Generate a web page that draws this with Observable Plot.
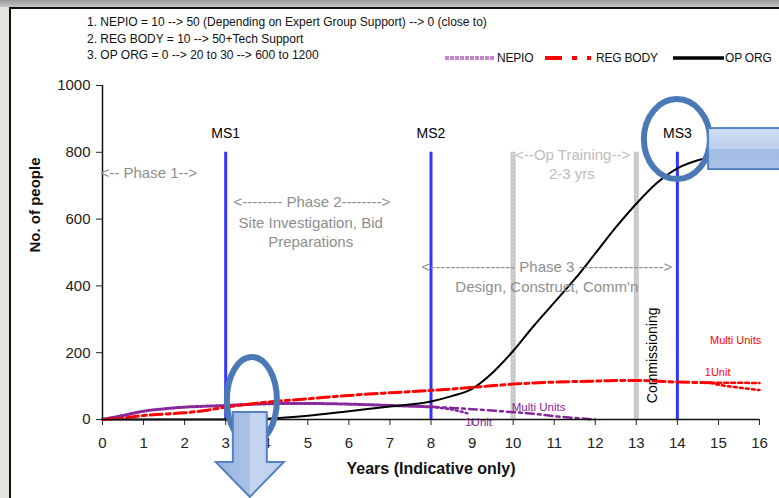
<!DOCTYPE html>
<html><head><meta charset="utf-8">
<script src="https://cdn.jsdelivr.net/npm/d3@7"></script>
<script src="https://cdn.jsdelivr.net/npm/@observablehq/plot@0.6"></script>
<style>
body{margin:0;background:#fff;font-family:"Liberation Sans",Arial,sans-serif;}
#wrap{position:relative;width:779px;height:498px;overflow:hidden;background:#fff;}
#wrap svg.plotsvg{position:absolute;left:0;top:0;}
.topbar{position:absolute;left:0;top:0;width:779px;height:7px;background:linear-gradient(#999,#c6c6c6);}
.leftstrip{position:absolute;left:0;top:7px;width:9px;height:491px;background:#e6e4de;}
.frame{position:absolute;left:9px;top:7px;width:780px;height:500px;border-left:2px solid #111;border-top:2px solid #111;pointer-events:none;}
.note{position:absolute;left:87px;font-size:12px;color:#111;white-space:nowrap;line-height:14px;}
.leg{position:absolute;top:51px;font-size:12px;color:#111;line-height:14px;letter-spacing:-0.2px;}
</style></head><body>
<div id="wrap"></div>
<script>
// ---- data ----
const xTicks = [0,1,2,3,4,5,6,7,8,9,10,11,12,13,14,15,16];
const yTicks = [0,200,400,600,800,1000];

const nepioYears  = [0,0.5,1,1.5,2,3,4,5,6,7,8];
const nepioValues = [0,12,25,32,37,42,47,48,46,42,38];
const nepioMultiYears  = [8,9,10,10.5,11,12];
const nepioMultiValues = [38,31,22,17,10,0];
const nepio1UnitYears  = [8,8.5,8.9];
const nepio1UnitValues = [38,30,18];

const regYears  = [0,0.5,1,1.5,2,2.5,3,3.5,4,5,6,7,8,9,10,11,12,13,14,14.8];
const regValues = [0,4,12,16,20,27,37,45,52,62,72,80,87,96,106,112,115,117,112,110];
const reg1UnitYears  = [14.8,15.5,16];
const reg1UnitValues = [110,110,109];
const regMultiYears  = [14.8,15,16];
const regMultiValues = [110,104,88];

const opYears  = [0,3.5,4,5,6,7,8,8.5,9,9.5,10,10.5,11,11.5,12,12.5,13,13.5,14,14.5,15,15.5];
const opValues = [0,0,2,11,25,39,54,70,92,140,205,280,350,420,497,575,646,708,752,776,790,798];

const milestoneYears  = [3,8,14];
const milestoneLabels = ["MS1","MS2","MS3"];
const milestoneTop = 800;
const trainingYears = [10,13];

const phaseLabels = [
  {text:"<-- Phase 1-->", x:1.13, y:736},
  {text:"<-------- Phase 2-------->", x:5.1, y:650},
  {text:"Site Investigation, Bid", x:5.07, y:587},
  {text:"Preparations", x:5.07, y:530},
  {text:"<----------------- Phase 3 ----------------->", x:10.82, y:455},
  {text:"Design, Construct, Comm'n", x:10.82, y:395}
];
const trainingLabels = [
  {text:"<--Op Training-->", x:11.45, y:790},
  {text:"2-3 yrs", x:11.43, y:733}
];
const commissioningLabel = {text:"Commissioning", x:13.39, y:192};
const redUnitLabels = [
  {text:"Multi Units", x:15.42, y:236},
  {text:"1Unit", x:14.98, y:141}
];
const purpleUnitLabels = [
  {text:"Multi Units", x:10.62, y:36},
  {text:"1Unit", x:9.16, y:-9}
];
const notes = [
  "1. NEPIO = 10 --> 50 (Depending on Expert Group Support) --> 0 (close to)",
  "2. REG BODY = 10 --> 50+Tech Support",
  "3. OP ORG = 0 --> 20 to 30 --> 600 to 1200"
];
const legendNames = ["NEPIO","REG BODY","OP ORG"];
// call-out decorations (anchored in data units)
const ringMS3 = {x:14, y:838};
const ringLow = {x:3.65, y:57};
const downArrow = {x:3.6, y:21};
const rightBox = {x:14.76, y:871};

// ---- tables ----
const zip = (xs, ys) => xs.map((x,i)=>({x, y:ys[i]}));
const nepio = zip(nepioYears, nepioValues);
const nepioMulti = zip(nepioMultiYears, nepioMultiValues);
const nepio1 = zip(nepio1UnitYears, nepio1UnitValues);
const reg = zip(regYears, regValues);
const reg1 = zip(reg1UnitYears, reg1UnitValues);
const regMulti = zip(regMultiYears, regMultiValues);
const op = zip(opYears, opValues);
const ms = milestoneYears.map((x,i)=>({x, label:milestoneLabels[i]}));

const PURPLE = "#86279a", RED = "#ff0000", BLUE = "#3434ff";

const chart = Plot.plot({
  width:779, height:498,
  marginLeft:102, marginRight:20, marginTop:85, marginBottom:79,
  style:{background:"transparent", fontFamily:"'Liberation Sans', Arial, sans-serif", fontSize:"15px", color:"#222"},
  x:{domain:[0,16], ticks:xTicks, tickSize:6, tickPadding:12, label:null, tickFormat:d=>String(d)},
  y:{domain:[0,1000], ticks:yTicks, tickSize:6, tickPadding:6, label:null, tickFormat:d=>String(d)},
  marks:[
    Plot.ruleX(trainingYears, {x:d=>d, y1:0, y2:milestoneTop, stroke:"#c8c8c8", strokeWidth:5}),
    Plot.ruleX(trainingYears, {x:d=>d, y1:0, y2:milestoneTop, stroke:"#e6e6e6", strokeWidth:1.5, strokeDasharray:"1,3"}),
    Plot.ruleX(ms, {x:"x", y1:0, y2:milestoneTop, stroke:BLUE, strokeWidth:3}),
    Plot.line(nepio, {x:"x", y:"y", stroke:PURPLE, strokeWidth:3, strokeDasharray:"3,1.5", curve:"catmull-rom"}),
    Plot.line(nepioMulti, {x:"x", y:"y", stroke:PURPLE, strokeWidth:2.5, strokeDasharray:"8,4,3,4", curve:"catmull-rom"}),
    Plot.line(nepio1, {x:"x", y:"y", stroke:PURPLE, strokeWidth:2.5, strokeDasharray:"2,3", curve:"catmull-rom"}),
    Plot.line(op, {x:"x", y:"y", stroke:"#000", strokeWidth:2, curve:"monotone-x"}),
    Plot.line(reg, {x:"x", y:"y", stroke:RED, strokeWidth:3, strokeDasharray:"12,4,4,4", curve:"catmull-rom"}),
    Plot.line(reg1, {x:"x", y:"y", stroke:RED, strokeWidth:2.5, strokeDasharray:"4,3"}),
    Plot.line(regMulti, {x:"x", y:"y", stroke:RED, strokeWidth:2.5, strokeDasharray:"3,3", curve:"catmull-rom"}),
    Plot.ruleY([0], {stroke:"#111", strokeWidth:1.5}),
    Plot.ruleX([0], {stroke:"#111", strokeWidth:1.5}),
    Plot.text(ms, {x:"x", y:milestoneTop, text:"label", dy:-19, fontSize:14, fill:"#000"}),
    Plot.text(phaseLabels, {x:"x", y:"y", text:"text", fontSize:15, fill:"#8e8e8e"}),
    Plot.text(trainingLabels, {x:"x", y:"y", text:"text", fontSize:15, fill:"#bdbdbd"}),
    Plot.text([commissioningLabel], {x:"x", y:"y", text:"text", fontSize:14, rotate:-90, fill:"#000"}),
    Plot.text(redUnitLabels, {x:"x", y:"y", text:"text", fontSize:11, fill:RED}),
    Plot.text(purpleUnitLabels, {x:"x", y:"y", text:"text", fontSize:11.5, fill:PURPLE}),
    Plot.text(["Years (Indicative only)"], {frameAnchor:"bottom", dy:54, fontSize:16, fontWeight:"bold", fill:"#111"}),
    Plot.text(["No. of people"], {frameAnchor:"left", dx:-67, rotate:-90, fontSize:15, fontWeight:"bold", fill:"#111"})
  ]
});
chart.classList.add("plotsvg");

// ---- call-out shapes, positioned through the plot's scales ----
const sx = chart.scale("x"), sy = chart.scale("y");
const X = sx.apply ? sx.apply : d3.scaleLinear(sx.domain, sx.range);
const Y = sy.apply ? sy.apply : d3.scaleLinear(sy.domain, sy.range);
const svg = d3.select(chart);
const defs = svg.append("defs");
const g1 = defs.append("linearGradient").attr("id","boxGrad").attr("x1",0).attr("y1",0).attr("x2",0).attr("y2",1);
[[0,"#d2dff4"],[0.5,"#bccfee"],[0.5,"#a2bbe5"],[1,"#a9c1e8"]].forEach(([o,c])=>g1.append("stop").attr("offset",o).attr("stop-color",c));
const g2 = defs.append("linearGradient").attr("id","arrGrad").attr("x1",0).attr("y1",0).attr("x2",1).attr("y2",0);
[[0,"#9bb5e2"],[0.5,"#a9c1e8"],[0.5,"#c6d6f1"],[1,"#bccff0"]].forEach(([o,c])=>g2.append("stop").attr("offset",o).attr("stop-color",c));
const RING = "#4a79b6";
svg.append("ellipse").attr("cx",X(ringMS3.x)).attr("cy",Y(ringMS3.y)).attr("rx",33).attr("ry",40)
  .attr("fill","none").attr("stroke",RING).attr("stroke-width",6);
const bx = X(rightBox.x), by = Y(rightBox.y);
svg.append("rect").attr("x",bx).attr("y",by).attr("width",110).attr("height",41)
  .attr("fill","url(#boxGrad)").attr("stroke","#5482c0").attr("stroke-width",2);
svg.append("ellipse").attr("cx",X(ringLow.x)).attr("cy",Y(ringLow.y)).attr("rx",25).attr("ry",43)
  .attr("fill","none").attr("stroke",RING).attr("stroke-width",6);
const ax = X(downArrow.x), at = Y(downArrow.y);
svg.append("path").attr("d",`M${ax-17},${at}L${ax+17},${at}L${ax+17},${at+50}L${ax+34},${at+50}L${ax},${at+85}L${ax-34},${at+50}L${ax-17},${at+50}Z`)
  .attr("fill","url(#arrGrad)").attr("stroke","#5482c0").attr("stroke-width",2);

const wrap = document.getElementById("wrap");
wrap.appendChild(chart);

// ---- slide frame, notes and legend ----
wrap.insertAdjacentHTML("beforeend", `<div class="topbar"></div><div class="leftstrip"></div><div class="frame"></div>`);
notes.forEach((t,i)=>{
  const d = document.createElement("div");
  d.className = "note"; d.style.top = (15 + i*16.5) + "px"; d.textContent = t;
  wrap.appendChild(d);
});
const legSvg = d3.select(wrap).append("svg").attr("width",779).attr("height",20)
  .style("position","absolute").style("left","0px").style("top","48px");
legSvg.append("line").attr("x1",445).attr("x2",495).attr("y1",10).attr("y2",10)
  .attr("stroke","#c485cc").attr("stroke-width",4).attr("stroke-dasharray","4,1");
legSvg.append("line").attr("x1",545).attr("x2",592).attr("y1",10).attr("y2",10)
  .attr("stroke",RED).attr("stroke-width",4).attr("stroke-dasharray","17,10,5,10,4");
legSvg.append("line").attr("x1",673).attr("x2",724).attr("y1",10).attr("y2",10)
  .attr("stroke","#000").attr("stroke-width",3.5);
[[497,0],[596,1],[725,2]].forEach(([l,i])=>{
  const d = document.createElement("div");
  d.className = "leg"; d.style.left = l + "px"; d.textContent = legendNames[i];
  wrap.appendChild(d);
});
</script>
</body></html>
